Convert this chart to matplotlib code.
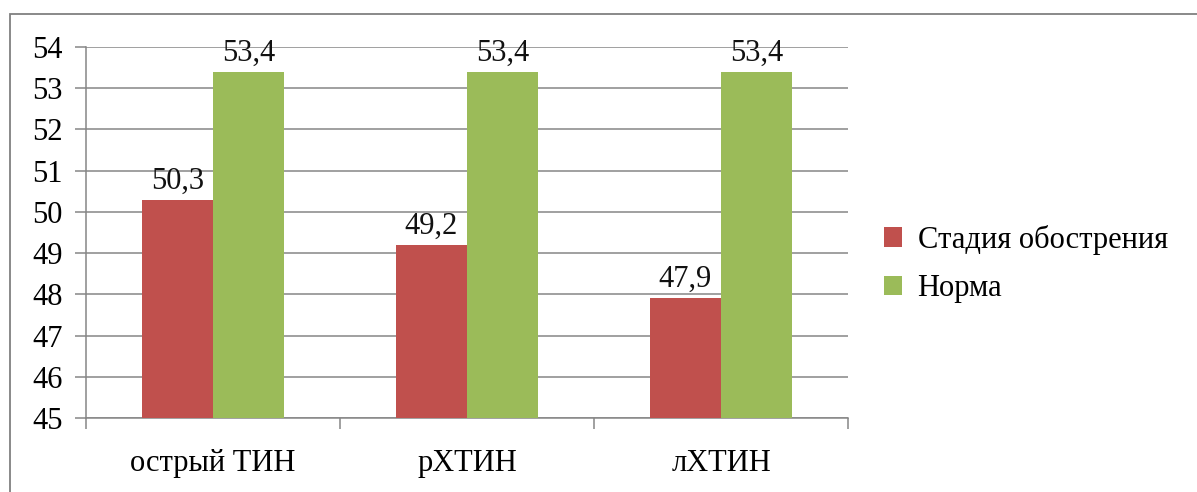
import matplotlib

matplotlib.use("Agg")
import matplotlib.pyplot as plt
import numpy as np
from matplotlib.patches import Rectangle

categories = ["острый ТИН", "рХТИН", "лХТИН"]
series_names = ["Стадия обострения", "Норма"]
exacerbation = [50.3, 49.2, 47.9]
norm = [53.4, 53.4, 53.4]
y_ticks = list(range(45, 55))

RED = "#C0504D"
GREEN = "#9BBB59"
GRID = "#868686"
FS = 22

plt.rcParams["font.family"] = "serif"
plt.rcParams["font.serif"] = ["Liberation Serif", "DejaVu Serif"]

W, H = 1197, 492
fig = plt.figure(figsize=(W / 100, H / 100), dpi=100)
ax = fig.add_axes([86 / W, 1 - 418 / H, (848 - 86) / W, (418 - 47) / H])

x = np.arange(len(categories))
w = 0.28
bars_r = ax.bar(x - w / 2, exacerbation, w, color=RED, label=series_names[0], zorder=3)
bars_g = ax.bar(x + w / 2, norm, w, color=GREEN, label=series_names[1], zorder=3)

for bars, vals in [(bars_r, exacerbation), (bars_g, norm)]:
    for b, v in zip(bars, vals):
        ax.annotate(f"{v:.1f}".replace(".", ","),
                    (b.get_x() + b.get_width() / 2, v),
                    xytext=(0, 3), textcoords="offset points",
                    ha="center", va="bottom", fontsize=FS, color="#111111")

ax.set_ylim(45, 54)
ax.set_xlim(-0.5, len(categories) - 0.5)
ax.set_yticks(y_ticks)
ax.set_yticklabels([str(t) for t in y_ticks], fontsize=FS)
ax.yaxis.grid(True, color=GRID, linewidth=1.1, zorder=0)
ax.tick_params(axis="y", length=8, color=GRID, width=1.1, pad=9, left=True)

ax.set_xticks(x)
ax.set_xticklabels(categories, fontsize=FS)
ax.set_xticks(np.arange(-0.5, len(categories)), minor=True)
ax.tick_params(axis="x", which="major", length=0, pad=22)
ax.tick_params(axis="x", which="minor", length=8, color=GRID, width=1.1)

for side in ("top", "right"):
    ax.spines[side].set_visible(False)
for side in ("left", "bottom"):
    ax.spines[side].set_color(GRID)
    ax.spines[side].set_linewidth(1.1)

# legend to the right of the plot area
ax.legend(loc="center left", bbox_to_anchor=(884 / W, 1 - 264 / H),
          bbox_transform=fig.transFigure, frameon=False, fontsize=FS,
          borderpad=0, borderaxespad=0, handlelength=0.6, handleheight=0.6,
          handletextpad=0.5, labelspacing=0.65)

# outer chart frame
fig.patches.append(Rectangle((10 / W, -0.05), 1.2, 1 - 14 / H + 0.05,
                             transform=fig.transFigure, fill=False,
                             edgecolor="#808080", linewidth=1.3))

fig.savefig("out.png", dpi=100)
